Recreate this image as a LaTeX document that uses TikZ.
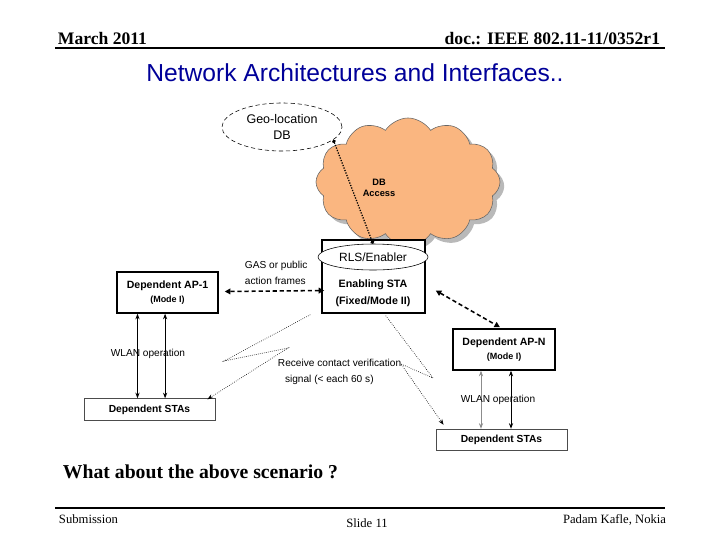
\documentclass[tikz,border=0pt]{standalone}
\usepackage{fontspec}
\setmainfont{Liberation Serif}
\setsansfont{Liberation Sans}
\usetikzlibrary{shapes}
\usetikzlibrary{shadows}
\usetikzlibrary{arrows.meta}
\definecolor{cloudorange}{RGB}{250,182,128}
\definecolor{titleblue}{RGB}{0,0,153}

\begin{document}
\begin{tikzpicture}[x=0.025cm,y=-0.025cm,
  box/.style={rectangle,draw,line width=1pt,fill=white,align=center,
    font=\sffamily\bfseries\fontsize{7.5}{10}\selectfont},
  stabox/.style={rectangle,draw=black!70,line width=0.6pt,fill=white,
    minimum width=3.275cm,minimum height=0.54cm,
    font=\sffamily\bfseries\fontsize{7.3}{8}\selectfont},
  lbl/.style={font=\sffamily\fontsize{7.2}{11.4}\selectfont,align=left},
  frame/.style={densely dashed,line width=1.1pt,
    {Triangle[length=4pt,width=4pt]}-{Triangle[length=4pt,width=4pt]}},
  wlan/.style={line width=0.6pt,{Stealth[length=4pt]}-{Stealth[length=4pt]}},
  bolt/.style={densely dotted,line width=0.45pt,-{Stealth[length=4pt]}}]
\useasboundingbox (0,0) rectangle (720,540);

% header
\node [anchor=west,font=\bfseries\fontsize{12.5}{14}\selectfont] (date) at (53,38) {March 2011};
\node [anchor=east,font=\bfseries\fontsize{12.5}{14}\selectfont] (doc) at (665,39) {doc.: IEEE 802.11-11/0352r1};
\draw [line width=1pt] (55,48) -- (665,48);
\node [font=\sffamily\fontsize{17.5}{20}\selectfont,text=titleblue] (title) at (355,73)
	{Network Architectures and Interfaces..};

% cloud and database
\node [cloud,cloud puffs=12,cloud puff arc=115,aspect=1.45,draw=black!60,line width=0.4pt,
	fill=cloudorange,drop shadow={opacity=0.55,shadow xshift=3pt,shadow yshift=-3pt},
	minimum width=4.6cm,minimum height=3.2cm] (net) at (408,182) {};
\node [ellipse,draw,densely dashed,line width=0.4pt,fill=white,minimum width=3cm,minimum height=1.2cm,
	align=center,font=\sffamily\fontsize{8.9}{11}\selectfont] (geo) at (282,127) {Geo-location\\DB};

% enabling station
\node [box,minimum width=2.575cm,minimum height=1.825cm] (sta) at (373.5,276.5) {};
\node [ellipse,draw,line width=0.4pt,fill=white,minimum width=2.75cm,minimum height=0.65cm,
	font=\sffamily\fontsize{8.5}{10}\selectfont] (rls) at (373,257) {RLS/Enabler};
\node [align=center,font=\sffamily\bfseries\fontsize{7.6}{12}\selectfont] (stalbl) at (373,293)
	{Enabling STA\\(Fixed/Mode II)};
\draw [densely dotted,line width=0.9pt,{Circle[length=2.5pt]}-{Circle[length=2.5pt]}] (geo.-14) -- (rls.north);
\node [align=center,font=\sffamily\bfseries\fontsize{6.6}{8}\selectfont] (dbacc) at (379,188) {DB\\Access};

% access points
\node [box,minimum width=2.525cm,minimum height=1.025cm] (ap1) at (167.5,292.5)
	{Dependent AP-1\\{\fontsize{6.4}{7}\selectfont (Mode I)}};
\node [box,minimum width=2.55cm,minimum height=1.025cm] (apn) at (504,349.5)
	{Dependent AP-N\\{\fontsize{6.4}{7}\selectfont (Mode I)}};

% stations
\node [stabox] (stas1) at (149.5,409.5) {Dependent STAs};
\node [stabox] (stas2) at (501.5,440) {Dependent STAs};

% frames between enabler and access points
\draw [frame] ([shift={(3,14)}]sta.west) -- ([shift={(6,-1)}]ap1.east);
\node [lbl,anchor=west] (gas) at (240,273) {GAS or public\\action frames};
\draw [frame] ([shift={(10,14)}]sta.east) -- ([shift={(-4,-1)}]apn.north);

% wlan links
\draw [wlan] ([xshift=-0.75cm]ap1.south) -- ([xshift=-0.75cm]ap1.south |- stas1.north);
\draw [wlan] ([xshift=-0.06cm]ap1.south) -- ([xshift=-0.06cm]ap1.south |- stas1.north);
\node [lbl] (wlan1) at (148,354) {WLAN operation};
\draw [wlan,draw=black!45] ([xshift=-0.575cm]apn.south) -- ([xshift=-0.575cm]apn.south |- stas2.north);
\draw [wlan] ([xshift=0.175cm]apn.south) -- ([xshift=0.175cm]apn.south |- stas2.north);
\node [lbl] (wlann) at (498,400) {WLAN operation};

% contact verification
\draw [bolt] ([shift={(-11,1)}]sta.south west) -- (224,361) -- (288,348) -- ([shift={(-8,1)}]stas1.north east);
\draw [bolt] ([shift={(-40,2)}]sta.south east) -- (433,378) -- (401,364) -- ([shift={(8,-4)}]stas2.north west);
\node [lbl,anchor=west] (verif) at (273,372)
	{Receive contact verification\\\hspace*{5pt}signal (\textless{} each 60 s)};

% question and footer
\node [anchor=west,font=\bfseries\fontsize{14}{16}\selectfont] (quest) at (58,472) {What about the above scenario ?};
\draw [line width=1.5pt] (55,508) -- (665,508);
\node [anchor=north west,font=\fontsize{9}{10}\selectfont] (subm) at (54,510) {Submission};
\node [font=\fontsize{9}{10}\selectfont] (slide) at (367,523) {Slide 11};
\node [anchor=north east,font=\fontsize{9}{10}\selectfont] (auth) at (671,510) {Padam Kafle, Nokia};
\end{tikzpicture}
\end{document}
